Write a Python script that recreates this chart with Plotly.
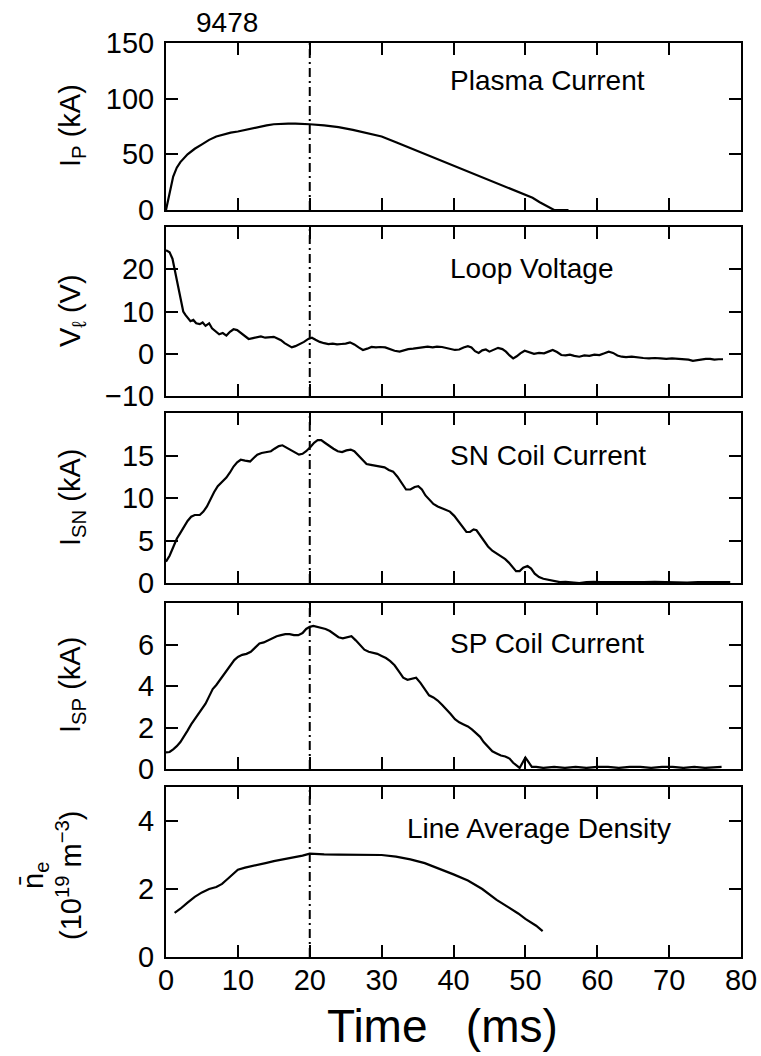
import plotly.graph_objects as go

# ---------------- data ----------------
shot_number = "9478"
marker_time = 20  # ms, vertical dash-dot reference line

ip_t = [0, 0.3, 0.6, 1, 1.5, 2, 3, 4, 5, 6,
        7, 8, 9, 10, 11, 12, 13, 14, 15, 16,
        17, 18, 19, 20, 22, 24, 26, 28, 30, 32,
        34, 36, 38, 40, 42, 44, 46, 48, 50, 51,
        52, 53, 53.6, 54, 56]
ip_v = [0, 10, 20, 30, 38, 43, 50, 55, 59, 63,
        66, 68, 69.5, 70.5, 72, 73.5, 75, 76, 77, 77.5,
        77.5, 77.5, 77.5, 77, 76, 74.5, 72, 69, 66, 60.8,
        55.6, 50.4, 45.2, 40, 34.8, 29.6, 24.4, 19.2, 14, 11,
        7, 3.5, 0.8, 0, 0]

vl_t = [0.0, 0.5, 0.9, 1.2, 1.5, 1.8, 2.1, 2.4, 2.7, 3.0,
        3.4, 3.8, 4.2, 4.7, 5.1, 5.5, 6.0, 6.4, 6.9, 7.4,
        7.9, 8.4, 8.9, 9.4, 9.9, 10.4, 10.9, 11.5, 12.1, 12.7,
        13.2, 13.8, 14.4, 15.0, 15.5, 16.0, 16.5, 17.0, 17.5, 18.0,
        18.6, 19.2, 19.8, 20.3, 20.8, 21.4, 22.0, 22.6, 23.2, 23.8,
        24.4, 25.0, 25.6, 26.2, 26.8, 27.4, 28.0, 28.6, 29.2, 29.8,
        30.5, 31.2, 31.8, 32.5, 33.1, 33.7, 34.4, 35.0, 35.7, 36.4,
        37.1, 37.7, 38.4, 39.0, 39.6, 40.2, 40.8, 41.4, 42.0, 42.5,
        43.0, 43.5, 44.0, 44.5, 45.0, 45.6, 46.2, 46.8, 47.3, 47.8,
        48.3, 48.8, 49.3, 49.9, 50.5, 51.2, 51.9, 52.6, 53.2, 53.8,
        54.4, 55.0, 55.6, 56.2, 56.8, 57.5, 58.2, 58.9, 59.6, 60.3,
        61.0, 61.6, 62.2, 62.8, 63.4, 64.0, 64.8, 65.6, 66.4, 67.2,
        68.0, 68.8, 69.6, 70.4, 71.2, 72.0, 72.7, 73.3, 73.9, 74.5,
        75.1, 75.7, 76.3, 76.9, 77.5]
vl_v = [24.5, 24.0, 22.5, 20.0, 17.0, 14.5, 12.5, 10.0, 9.2, 8.5,
        7.7, 8.0, 7.2, 7.0, 7.4, 6.6, 7.2, 6.0, 5.2, 4.6,
        4.9, 4.3, 5.2, 5.8, 5.6, 4.9, 4.2, 3.5, 3.7, 3.9,
        4.1, 3.8, 3.9, 4.0, 3.6, 3.2, 2.5, 1.9, 1.5, 1.8,
        2.3, 2.8, 3.5, 3.8, 3.3, 2.8, 2.5, 2.3, 2.4, 2.2,
        2.3, 2.4, 2.7, 2.2, 1.5, 0.9, 1.2, 1.6, 1.5, 1.6,
        1.5, 1.0, 0.7, 0.5, 0.8, 1.1, 1.2, 1.3, 1.5, 1.7,
        1.5, 1.7, 1.6, 1.4, 1.2, 0.9, 1.0, 1.5, 1.8, 1.5,
        0.6, 0.2, 0.8, 1.0, 0.5, 1.0, 1.4, 1.1, 0.5, -0.4,
        -1.1, -0.6, 0.1, 0.7, 0.3, 0.0, 0.2, 0.1, 0.5, 0.9,
        0.4, -0.3, -0.4, -0.2, -0.5, -0.7, -0.4, -0.5, -0.2, -0.3,
        0.1, 0.5, 0.2, -0.4, -0.7, -0.8, -0.7, -0.9, -1.0, -1.1,
        -1.0, -1.1, -1.2, -1.1, -1.2, -1.3, -1.4, -1.7, -1.5, -1.3,
        -1.2, -1.2, -1.4, -1.3, -1.3]

isn_t = [0.0, 0.5, 1.0, 1.5, 2.0, 2.5, 3.0, 3.5, 4.0, 4.7,
         5.2, 5.7, 6.2, 6.7, 7.2, 7.8, 8.4, 8.9, 9.4, 9.9,
         10.4, 11.0, 11.7, 12.2, 12.7, 13.3, 14.0, 14.6, 15.1, 15.7,
         16.2, 16.8, 17.3, 17.9, 18.5, 19.0, 19.5, 20.1, 20.6, 21.1,
         21.6, 22.1, 22.7, 23.3, 23.9, 24.5, 25.1, 25.7, 26.2, 26.8,
         27.4, 27.9, 28.5, 29.2, 29.8, 30.4, 31.0, 31.6, 32.2, 32.8,
         33.4, 34.0, 34.6, 35.1, 35.6, 36.1, 36.7, 37.2, 37.8, 38.4,
         38.9, 39.5, 40.1, 40.7, 41.3, 41.8, 42.3, 42.8, 43.2, 43.7,
         44.2, 44.8, 45.4, 46.0, 46.6, 47.2, 47.7, 48.2, 48.7, 49.2,
         49.7, 50.3, 50.8, 51.3, 51.9, 52.5, 53.2, 54.0, 54.8, 55.6,
         56.5, 57.5, 58.5, 59.5, 60.5, 62.0, 63.5, 65.0, 66.5, 68.0,
         69.5, 71.0, 72.5, 74.0, 75.5, 77.0, 78.5]
isn_v = [2.5, 3.2, 4.2, 5.2, 5.9, 6.6, 7.3, 7.8, 8.0, 8.0,
         8.4, 9.0, 9.9, 10.7, 11.4, 11.9, 12.4, 13.0, 13.7, 14.2,
         14.5, 14.4, 14.3, 14.7, 15.1, 15.3, 15.4, 15.5, 15.8, 16.1,
         16.2, 15.9, 15.6, 15.3, 15.1, 15.2, 15.5, 16.0, 16.5, 16.8,
         16.8, 16.5, 16.1, 15.8, 15.5, 15.4, 15.6, 15.7, 15.5, 15.0,
         14.4, 14.0, 13.9, 13.8, 13.7, 13.6, 13.3, 13.1, 12.5, 11.7,
         11.0, 11.0, 11.3, 11.4, 11.0, 10.3, 9.7, 9.3, 9.0, 8.8,
         8.6, 8.4, 7.9, 7.2, 6.5, 6.0, 6.0, 6.3, 6.2, 5.6,
         4.9, 4.3, 3.8, 3.5, 3.2, 2.8, 2.4, 1.9, 1.4, 1.4,
         1.8, 2.0, 1.7, 1.1, 0.7, 0.5, 0.4, 0.3, 0.1, 0.15,
         0.1, 0.0, 0.1, 0.15, 0.1, 0.1, 0.05, 0.1, 0.1, 0.15,
         0.1, 0.1, 0.05, 0.1, 0.1, 0.1, 0.1]

isp_t = [0.0, 0.5, 1.0, 1.5, 2.0, 2.5, 3.0, 3.5, 4.0, 4.5,
         5.0, 5.5, 6.0, 6.5, 7.0, 7.5, 8.0, 8.5, 9.0, 9.5,
         10.0, 10.6, 11.2, 11.8, 12.4, 13.0, 13.6, 14.2, 14.8, 15.4,
         16.0, 16.6, 17.2, 17.8, 18.4, 19.0, 19.5, 20.0, 20.5, 21.0,
         21.6, 22.2, 22.8, 23.4, 24.0, 24.6, 25.2, 25.8, 26.4, 27.0,
         27.6, 28.2, 28.8, 29.4, 30.0, 30.6, 31.2, 31.8, 32.4, 33.0,
         33.6, 34.2, 34.8, 35.4, 36.0, 36.6, 37.2, 37.8, 38.4, 39.0,
         39.6, 40.2, 40.8, 41.4, 42.0, 42.6, 43.2, 43.7, 44.2, 44.8,
         45.4, 46.0, 46.6, 47.2, 47.8, 48.3, 48.8, 49.2, 49.6, 50.0,
         50.4, 50.9, 51.5, 52.5, 54.0, 55.5, 57.0, 58.5, 60.0, 61.5,
         63.0, 64.5, 66.0, 67.5, 69.0, 70.5, 72.0, 73.5, 75.0, 77.3]
isp_v = [0.8, 0.82, 0.95, 1.1, 1.3, 1.55, 1.85, 2.15, 2.4, 2.65,
         2.85, 3.15, 3.5, 3.85, 4.05, 4.3, 4.5, 4.75, 5.0, 5.25,
         5.4, 5.5, 5.55, 5.65, 5.85, 6.05, 6.1, 6.2, 6.3, 6.4,
         6.45, 6.5, 6.5, 6.45, 6.45, 6.55, 6.75, 6.85, 6.9, 6.85,
         6.8, 6.75, 6.65, 6.5, 6.35, 6.3, 6.35, 6.4, 6.2, 5.95,
         5.75, 5.65, 5.6, 5.55, 5.45, 5.35, 5.2, 5.0, 4.7, 4.4,
         4.3, 4.35, 4.4, 4.15, 3.85, 3.55, 3.45, 3.3, 3.1, 2.9,
         2.65, 2.4, 2.25, 2.15, 2.05, 1.9, 1.7, 1.55, 1.3, 1.05,
         0.85, 0.75, 0.65, 0.6, 0.5, 0.3, 0.15, 0.05, 0.3, 0.55,
         0.35, 0.1, 0.1, 0.05, 0.1, 0.05, 0.1, 0.05, 0.1, 0.1,
         0.05, 0.1, 0.1, 0.05, 0.1, 0.1, 0.05, 0.1, 0.05, 0.1]

ne_t = [1.2, 2.0, 3.0, 4.0, 5.0, 6.0, 7.0, 7.8, 8.6, 9.4,
        10.0, 11.0, 12.0, 13.0, 14.0, 15.0, 16.0, 17.0, 18.0, 19.0,
        20.0, 21.0, 22.0, 24.0, 26.0, 28.0, 30.0, 32.0, 34.0, 36.0,
        38.0, 40.0, 42.0, 44.0, 46.0, 48.0, 49.0, 50.0, 51.5, 52.4]
ne_v = [1.3, 1.42, 1.6, 1.77, 1.9, 2.0, 2.06, 2.15, 2.3, 2.47,
        2.57, 2.63, 2.67, 2.72, 2.77, 2.82, 2.86, 2.89, 2.93, 2.98,
        3.04, 3.04, 3.02, 3.01, 3.0, 3.0, 3.0, 2.95, 2.87, 2.76,
        2.6, 2.43, 2.25, 2.0, 1.68, 1.42, 1.28, 1.12, 0.92, 0.76]

panel_names = ["Plasma Current", "Loop Voltage", "SN Coil Current",
               "SP Coil Current", "Line Average Density"]
y_titles = ["I<sub>P</sub> (kA)",
            "V<sub>\u2113</sub> (V)",
            "I<sub>SN</sub> (kA)",
            "I<sub>SP</sub> (kA)",
            "n\u0304<sub>e</sub><br>(10<sup>19</sup> m<sup>\u22123</sup>)"]
y_ranges = [[0, 150], [-10, 30], [0, 20], [0, 8], [0, 5]]
y_tickvals = [[0, 50, 100, 150], [-10, 0, 10, 20], [0, 5, 10, 15],
              [0, 2, 4, 6], [0, 2, 4]]
x_range = [0, 80]
x_tickvals = [0, 10, 20, 30, 40, 50, 60, 70, 80]
x_title = "Time\u00a0\u00a0\u00a0(ms)"

series = [(ip_t, ip_v), (vl_t, vl_v), (isn_t, isn_v), (isp_t, isp_v), (ne_t, ne_v)]

# ---------------- layout geometry (pixels) ----------------
W, H = 761, 1056
x_left, x_right = 166, 741
panel_px = [(43, 210), (227, 396), (413, 583), (603, 769), (787, 957)]
label_pos = [(39.3, 80), (39.3, 268), (39.3, 455), (39.3, 643), (33.3, 828)]
ytitle_px = [(72, 126), (72, 311), (72, 498), (72, 685), (52, 875)]

FONT = "Liberation Sans, Arial, Helvetica, sans-serif"

fig = go.Figure()
layout = dict(width=W, height=H, margin=dict(l=0, r=0, t=0, b=0, autoexpand=False),
              paper_bgcolor="white", plot_bgcolor="white", showlegend=False,
              font=dict(family=FONT, color="black"))
annotations = []
shapes = []

axis_common = dict(showline=True, linecolor="black", linewidth=2, mirror="ticks",
                   ticks="inside", ticklen=12, tickwidth=2, tickcolor="black",
                   showgrid=False, zeroline=False, automargin=False,
                   tickfont=dict(family=FONT, size=29, color="black"))

for i, ((tt, vv), (top, bot)) in enumerate(zip(series, panel_px)):
    n = i + 1
    xa = "xaxis" if n == 1 else f"xaxis{n}"
    ya = "yaxis" if n == 1 else f"yaxis{n}"
    xr = "x" if n == 1 else f"x{n}"
    yr = "y" if n == 1 else f"y{n}"
    fig.add_trace(go.Scatter(x=tt, y=vv, mode="lines", xaxis=xr, yaxis=yr,
                             line=dict(color="black", width=2.2), hoverinfo="skip"))
    layout[xa] = dict(axis_common, domain=[x_left / W, x_right / W], range=x_range,
                      tickvals=x_tickvals, anchor=yr,
                      showticklabels=(n == 5), ticklabelstandoff=-4)
    if n > 1:
        layout[xa]["matches"] = "x"
    layout[ya] = dict(axis_common, domain=[1 - bot / H, 1 - top / H],
                      range=y_ranges[i], tickvals=y_tickvals[i], anchor=xr,
                      ticklabelstandoff=4)
    shapes.append(dict(type="line", xref=xr, yref=f"{yr} domain",
                       x0=marker_time, x1=marker_time, y0=0, y1=1,
                       line=dict(color="black", width=2, dash="9px,4px,2px,4px")))
    lx, ly = label_pos[i]
    annotations.append(dict(text=panel_names[i], xref=xr, yref="paper",
                            x=lx, y=1 - ly / H, xanchor="left", yanchor="middle",
                            showarrow=False, font=dict(size=28, family=FONT)))
    tx, ty = ytitle_px[i]
    annotations.append(dict(text=y_titles[i], xref="paper", yref="paper",
                            x=tx / W, y=1 - ty / H, xanchor="center", yanchor="middle",
                            textangle=-90, showarrow=False,
                            font=dict(size=29, family=FONT)))

annotations.append(dict(text=shot_number, xref="paper", yref="paper",
                        x=227 / W, y=1 - 22 / H, xanchor="center", yanchor="middle",
                        showarrow=False, font=dict(size=28, family=FONT)))
annotations.append(dict(text=x_title, xref="paper", yref="paper",
                        x=442 / W, y=1 - 1026 / H, xanchor="center", yanchor="middle",
                        showarrow=False, font=dict(size=46, family=FONT)))

layout["annotations"] = annotations
layout["shapes"] = shapes
fig.update_layout(**layout)
fig.write_html("out.html")
